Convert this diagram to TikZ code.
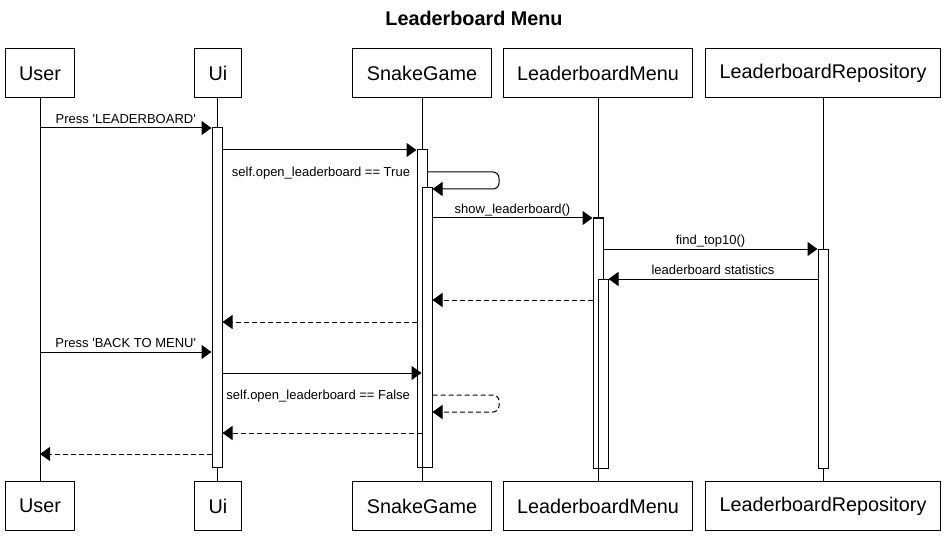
\documentclass[tikz,border=0pt]{standalone}
\usepackage{fontspec}
\setmainfont{Liberation Sans}
\usetikzlibrary{arrows.meta}
\begin{document}
\begin{tikzpicture}[x=1pt,y=-1pt, line width=1pt,
  part/.style={draw, fill=white, inner xsep=14pt, minimum height=49pt, font=\fontsize{19.8}{24}\selectfont},
  act/.style={draw, fill=white, minimum width=10pt, inner sep=0pt},
  msg/.style={-{Triangle[length=10pt,width=14pt]}},
  ret/.style={msg, dash pattern=on 5pt off 3pt},
  lbl/.style={font=\fontsize{13}{15}\selectfont, inner sep=0pt, text depth=0pt}]
\useasboundingbox (0,0) rectangle (950,540);
\node[font=\bfseries\fontsize{19.8}{24}\selectfont] (title) at (474,18) {Leaderboard Menu};
% participants
\node[part] (U) at (40,73.5) {User};
\node[part] (Ui) at (218,73.5) {Ui};
\node[part] (SG) at (422,73.5) {SnakeGame};
\node[part] (LM) at (598,73.5) {LeaderboardMenu};
\node[part] (LR) at (823,73.5) {LeaderboardRepository};
\node[part] (U2) at (40,506) {User};
\node[part] (Ui2) at (218,506) {Ui};
\node[part] (SG2) at (422,506) {SnakeGame};
\node[part] (LM2) at (598,506) {LeaderboardMenu};
\node[part] (LR2) at (823,506) {LeaderboardRepository};
% lifelines
\draw (U) -- (U2);
\draw (217,98) -- (217,482);
\draw (SG) -- (SG2);
\draw (LM) -- (LM2);
\draw (LR) -- (LR2);
% activations
\node[act, minimum height=339pt] (aUi) at (217,297.5) {};
\node[act, minimum height=317pt] (aSG1) at (422,308.5) {};
\node[act, minimum height=279pt] (aSG2) at (427,327.5) {};
\node[act, minimum height=250pt] (aLM1) at (598,343) {};
\node[act, minimum height=189pt] (aLM2) at (603,373.5) {};
\node[act, minimum height=219pt] (aLR) at (823,358.5) {};
% messages
\draw[msg] (U |- 0,128) -- (aUi.west |- 0,128) node[lbl, midway, above=4pt] {Press \textquotesingle LEADERBOARD\textquotesingle};
\draw[msg] (aUi.east |- 0,150) -- (aSG1.west |- 0,150);
\draw[msg, rounded corners=6pt] (aSG1.east |- 0,172) -- (499,172) -- (499,189) -- (aSG2.east |- 0,189);
\node[lbl, left=6pt] (l3) at (aSG1.west |- 0,172) {self.open\_leaderboard == True};
\draw[msg] (aSG2.east |- 0,218) -- (aLM1.west |- 0,218) node[lbl, midway, above=4pt] {show\_leaderboard()};
\draw[msg] (aLM1.east |- 0,249) -- (aLR.west |- 0,249) node[lbl, midway, above=4pt] {find\_top10()};
\draw[msg] (aLR.west |- 0,279) -- (aLM2.east |- 0,279) node[lbl, midway, above=4pt] {leaderboard statistics};
\draw[ret] (aLM1.west |- 0,300) -- (aSG2.east |- 0,300);
\draw[ret] (aSG1.west |- 0,322) -- (aUi.east |- 0,322);
\draw[msg] (U |- 0,352) -- (aUi.west |- 0,352) node[lbl, midway, above=4pt] {Press \textquotesingle BACK TO MENU\textquotesingle};
\draw[msg] (aUi.east |- 0,373) -- (aSG2.west |- 0,373);
\draw[ret, rounded corners=6pt] (aSG2.east |- 0,395) -- (499,395) -- (499,412) -- (aSG2.east |- 0,412);
\node[lbl, left=6pt] (l11) at (aSG1.west |- 0,395) {self.open\_leaderboard == False};
\draw[ret] (aSG2.west |- 0,433) -- (aUi.east |- 0,433);
\draw[ret] (aUi.west |- 0,454) -- (U |- 0,454);
\end{tikzpicture}
\end{document}
